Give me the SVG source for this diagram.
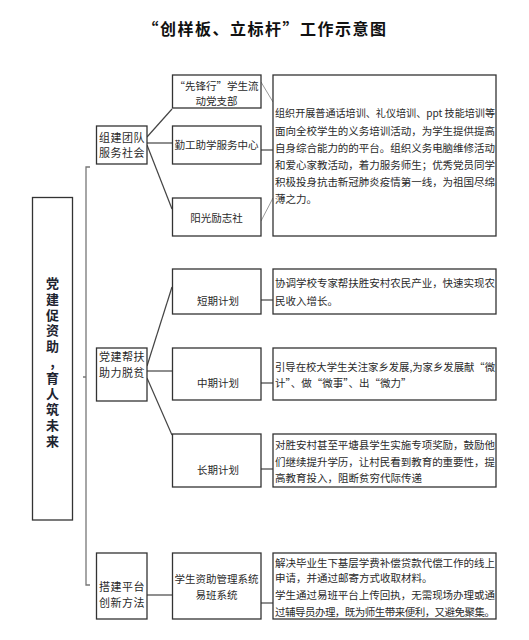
<svg xmlns="http://www.w3.org/2000/svg" width="529" height="640" viewBox="0 0 529 640">
<style>
text{font-family:"Noto Sans CJK SC","Noto Sans",sans-serif;fill:#2a2a2a}
.box{fill:#fff;stroke:#333;stroke-width:1.3}
.t2{font-size:11px;text-anchor:middle;letter-spacing:0.5px}
.t3{font-size:10.5px;text-anchor:middle}
.d{font-size:10.5px}
.main{font-size:13px;font-weight:bold;fill:#1e2430;writing-mode:vertical-rl;text-orientation:upright;letter-spacing:2.8px}
.c{stroke:#444;stroke-width:1.2;fill:none}
.g{stroke:#9a9a9a;stroke-width:1;fill:none}
.b{stroke:#777;stroke-width:1.3;fill:none}
</style>
<rect width="529" height="640" fill="#fff"/>
<text x="265" y="35" style="font-size:16px;font-weight:bold;text-anchor:middle;letter-spacing:1.5px;fill:#111">“创样板、立标杆”工作示意图</text>

<g id="connectors">
<path class="b" d="M90,167 L86,167 L86,585 L90,585 M83,377 L86,377"/>
<line class="c" x1="147" y1="137" x2="172" y2="109"/>
<line class="c" x1="147" y1="143" x2="172" y2="143"/>
<line class="c" x1="147" y1="145" x2="172" y2="209"/>
<line class="c" x1="147" y1="366" x2="172" y2="287"/>
<line class="c" x1="147" y1="371" x2="172" y2="371"/>
<line class="c" x1="147" y1="378" x2="172" y2="435"/>
<line class="c" x1="147" y1="595" x2="172" y2="595"/>
<line class="g" x1="261" y1="82" x2="273" y2="102"/>
<line class="c" x1="253" y1="150" x2="273" y2="150"/>
<line class="g" x1="261" y1="221" x2="273" y2="198"/>
<line class="c" x1="253" y1="300" x2="273" y2="300"/>
<line class="c" x1="253" y1="383" x2="273" y2="383"/>
<line class="c" x1="253" y1="469" x2="273" y2="469"/>
<line class="c" x1="253" y1="603" x2="273" y2="603"/>
</g>

<g id="main">
<rect class="box" x="32.5" y="197.5" width="40" height="322.5"/>
<text class="main" x="52.5" y="276.5">党建促资助,育人筑未来</text>
</g>

<g id="n-team">
<rect class="box" x="96.5" y="126" width="50.5" height="38"/>
<text class="t2" x="122" y="142">组建团队</text>
<text class="t2" x="122" y="157">服务社会</text>
</g>
<g id="n-help">
<rect class="box" x="96.5" y="348" width="50.5" height="53"/>
<text class="t2" x="122" y="361">党建帮扶</text>
<text class="t2" x="122" y="377">助力脱贫</text>
</g>
<g id="n-platform">
<rect class="box" x="96.5" y="553" width="50.5" height="66"/>
<text class="t2" x="122" y="591">搭建平台</text>
<text class="t2" x="122" y="607">创新方法</text>
</g>

<g id="n-pioneer">
<rect class="box" x="172.5" y="75" width="88.5" height="33"/>
<text class="t3" x="216.5" y="90">“先锋行”学生流</text>
<text class="t3" x="216.5" y="105">动党支部</text>
</g>
<g id="n-work">
<rect class="box" x="172.5" y="126" width="88.5" height="38"/>
<text class="t3" x="216.5" y="149">勤工助学服务中心</text>
</g>
<g id="n-sun">
<rect class="box" x="172.5" y="198" width="88.5" height="38"/>
<text class="t3" x="216.5" y="222">阳光励志社</text>
</g>
<g id="n-short">
<rect class="box" x="172.5" y="269" width="88.5" height="45"/>
<text class="t3" x="218" y="305">短期计划</text>
</g>
<g id="n-mid">
<rect class="box" x="172.5" y="348" width="88.5" height="52"/>
<text class="t3" x="218" y="387">中期计划</text>
</g>
<g id="n-long">
<rect class="box" x="172.5" y="434" width="88.5" height="53"/>
<text class="t3" x="218" y="474">长期计划</text>
</g>
<g id="n-system">
<rect class="box" x="172.5" y="553" width="88.5" height="66"/>
<text class="t3" x="216.5" y="583">学生资助管理系统</text>
<text class="t3" x="216.5" y="599">易班系统</text>
</g>

<g id="d-team">
<rect class="box" x="273" y="75" width="223" height="161"/>
<text class="d" x="275" y="117" textLength="220" lengthAdjust="spacingAndGlyphs">组织开展普通话培训、礼仪培训、ppt 技能培训等</text>
<text class="d" x="275" y="135" textLength="220">面向全校学生的义务培训活动，为学生提供提高</text>
<text class="d" x="275" y="152" textLength="220">自身综合能力的的平台。组织义务电脑维修活动</text>
<text class="d" x="275" y="169" textLength="220">和爱心家教活动，着力服务师生；优秀党员同学</text>
<text class="d" x="275" y="186" textLength="220">积极投身抗击新冠肺炎疫情第一线，为祖国尽绵</text>
<text class="d" x="275" y="203">薄之力。</text>
</g>
<g id="d-short">
<rect class="box" x="273" y="269" width="223" height="45"/>
<text class="d" x="275" y="287" textLength="220">协调学校专家帮扶胜安村农民产业，快速实现农</text>
<text class="d" x="275" y="305">民收入增长。</text>
</g>
<g id="d-mid">
<rect class="box" x="273" y="348" width="223" height="52"/>
<text class="d" x="275" y="371" textLength="220" lengthAdjust="spacingAndGlyphs">引导在校大学生关注家乡发展,为家乡发展献“微</text>
<text class="d" x="275" y="387">计”、做“微事”、出“微力”</text>
</g>
<g id="d-long">
<rect class="box" x="273" y="434" width="223" height="53"/>
<text class="d" x="275" y="449" textLength="220">对胜安村甚至平塘县学生实施专项奖励，鼓励他</text>
<text class="d" x="275" y="466" textLength="220">们继续提升学历，让村民看到教育的重要性，提</text>
<text class="d" x="275" y="482">高教育投入，阻断贫穷代际传递</text>
</g>
<g id="d-system">
<rect class="box" x="273" y="553" width="223" height="66"/>
<text class="d" x="275" y="567" textLength="220">解决毕业生下基层学费补偿贷款代偿工作的线上</text>
<text class="d" x="275" y="582">申请，并通过邮寄方式收取材料。</text>
<text class="d" x="275" y="599" textLength="220">学生通过易班平台上传回执，无需现场办理或通</text>
<text class="d" x="275" y="616" textLength="220">过辅导员办理，既为师生带来便利，又避免聚集。</text>
</g>
</svg>
